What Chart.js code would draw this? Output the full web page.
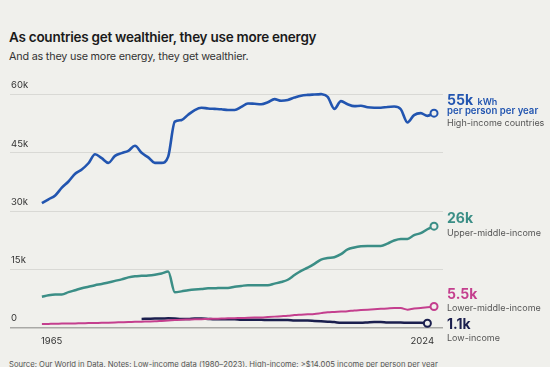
<!DOCTYPE html>
<html>
<head>
<meta charset="utf-8">
<script src="https://cdn.jsdelivr.net/npm/chart.js@4/dist/chart.umd.min.js"></script>
<style>
  html, body { margin: 0; padding: 0; }
  body {
    width: 550px; height: 367px; overflow: hidden; position: relative;
    background: #f0f0ec; font-family: Inter, "Noto Sans", sans-serif; color: #1a1a1a;
  }
  .title { position: absolute; left: 9px; top: 29px; font-size: 13.5px; font-weight: 600; letter-spacing: -0.25px; }
  .subtitle { position: absolute; left: 9px; top: 50px; font-size: 10.8px; color: #333; letter-spacing: -0.2px; }
  .chart-wrap { position: absolute; left: 0; top: 70px; width: 550px; height: 285px; }
  .end { position: absolute; left: 447px; line-height: 1; white-space: nowrap; }
  .big { font-size: 14px; font-weight: 700; }
  .unit { font-size: 9px; font-weight: 600; }
  .per { font-size: 9.6px; font-weight: 600; }
  .sub { font-size: 9px; color: #555; }
  .source { position: absolute; left: 9px; top: 360px; font-size: 7.7px; color: #555; white-space: nowrap; }
</style>
</head>
<body>
<div class="title">As countries get wealthier, they use more energy</div>
<div class="subtitle">And as they use more energy, they get wealthier.</div>
<div class="chart-wrap"><canvas id="energyChart"></canvas></div>

<div class="end" style="top:91px;color:#2255b0"><span class="big">55k</span> <span class="unit">kWh</span></div>
<div class="end per" style="top:106px;color:#2255b0">per person per year</div>
<div class="end sub" style="top:118px">High-income countries</div>

<div class="end big" style="top:211px;color:#3b8e86">26k</div>
<div class="end sub" style="top:228px">Upper-middle-income</div>

<div class="end big" style="top:287px;color:#c43f8e">5.5k</div>
<div class="end sub" style="top:303px">Lower-middle-income</div>

<div class="end big" style="top:317px;color:#1b1f4e">1.1k</div>
<div class="end sub" style="top:333px">Low-income</div>

<div class="source">Source: Our World in Data. Notes: Low-income data (1980–2023). High-income: &gt;$14,005 income per person per year</div>

<script>
const years = [
  1965, 1966, 1967, 1968, 1969, 1970, 1971, 1972, 1973, 1974,
  1975, 1976, 1977, 1978, 1979, 1980, 1981, 1982, 1983, 1984,
  1985, 1986, 1987, 1988, 1989, 1990, 1991, 1992, 1993, 1994,
  1995, 1996, 1997, 1998, 1999, 2000, 2001, 2002, 2003, 2004,
  2005, 2006, 2007, 2008, 2009, 2010, 2011, 2012, 2013, 2014,
  2015, 2016, 2017, 2018, 2019, 2020, 2021, 2022, 2023, 2024,
];

// kWh per person per year
const highIncome = [
  32000, 33000, 34000, 36000, 37600, 39600, 40700, 42300, 44600, 43600,
  42400, 44200, 44900, 45500, 46800, 45000, 43800, 42400, 42400, 44000,
  53000, 53400, 54800, 56000, 56600, 56400, 56300, 56200, 56000, 56000,
  56800, 57700, 57600, 57500, 58000, 58800, 58400, 58600, 59200, 59700,
  59900, 60000, 60100, 59400, 56300, 58300, 57500, 57000, 57100, 56700,
  56600, 56600, 56800, 56900, 56200, 52800, 54700, 55200, 54500, 55200,
];

const upperMiddle = [
  7900, 8300, 8500, 8500, 9100, 9600, 10100, 10500, 10900, 11200,
  11600, 12000, 12400, 12900, 13200, 13300, 13400, 13600, 13900, 14400,
  9100, 9300, 9600, 9800, 9900, 10100, 10100, 10200, 10200, 10500,
  10700, 10900, 10900, 10900, 10900, 11300, 11700, 12300, 13500, 14600,
  15400, 16400, 17500, 17900, 18100, 18900, 20100, 20600, 20900, 21000,
  21000, 21000, 21600, 22400, 22800, 22800, 23800, 24300, 25300, 26100,
];

const lowerMiddle = [
  900, 930, 960, 1000, 1030, 1060, 1100, 1130, 1170, 1200,
  1250, 1300, 1350, 1400, 1450, 1500, 1550, 1600, 1700, 1800,
  1900, 2000, 2050, 2100, 2150, 2200, 2250, 2300, 2350, 2400,
  2450, 2500, 2550, 2600, 2700, 2800, 2900, 3000, 3200, 3300,
  3400, 3500, 3700, 3900, 4000, 4100, 4200, 4400, 4500, 4600,
  4700, 4800, 4900, 5000, 5000, 4600, 4900, 5000, 5200, 5400,
];

// low-income data only 1980–2023
const lowIncome = [
  null, null, null, null, null, null, null, null, null, null,
  null, null, null, null, null, 2200, 2250, 2300, 2300, 2350,
  2300, 2200, 2200, 2300, 2300, 2200, 2100, 2100, 2100, 2100,
  2000, 2000, 2000, 2000, 1900, 1900, 1900, 1900, 1800, 1800,
  1800, 1700, 1600, 1500, 1400, 1200, 1200, 1200, 1200, 1300,
  1400, 1400, 1300, 1300, 1300, 1200, 1200, 1200, 1100, null,
];

const yTicks = [0, 15000, 30000, 45000, 60000];
const xLabels = [1965, 2024];

const BG = "#f0f0ec";

const toPoints = (values) => years.map((y, i) => ({ x: y, y: values[i] }));

const makeSeries = function (values, color, width) {
  let last = values.length - 1;
  while (values[last] === null) last--;
  return {
    data: toPoints(values),
    borderColor: color,
    borderWidth: width,
    cubicInterpolationMode: "monotone",
    pointRadius: (ctx) => (ctx.dataIndex === last ? 3.5 : 0),
    pointHoverRadius: 0,
    pointBackgroundColor: BG,
    pointBorderColor: color,
    pointBorderWidth: 2,
    spanGaps: false,
    clip: false,
  };
};

// year labels under the plot: first left-aligned, last right-aligned
const yearLabels = {
  id: "yearLabels",
  afterDraw(chart) {
    const { ctx, chartArea, scales } = chart;
    ctx.save();
    ctx.font = "9.5px Inter, sans-serif";
    ctx.fillStyle = "#333";
    ctx.textBaseline = "middle";
    xLabels.forEach((yr, i) => {
      ctx.textAlign = i === 0 ? "left" : "right";
      ctx.fillText(String(yr), scales.x.getPixelForValue(yr) - (i === 0 ? 1 : 0), chartArea.bottom + 14);
    });
    ctx.restore();
  },
};

new Chart(document.querySelector("#energyChart"), {
  type: "line",
  data: {
    datasets: [
      makeSeries(lowerMiddle, "#c43f8e", 2),
      makeSeries(lowIncome, "#1b1f4e", 2.5),
      makeSeries(upperMiddle, "#3b8e86", 2.5),
      makeSeries(highIncome, "#2255b0", 2.6),
    ],
  },
  options: {
    responsive: true,
    maintainAspectRatio: false,
    animation: false,
    events: [],
    layout: { padding: { left: 8, right: 107, top: 24.5, bottom: 27.5 } },
    plugins: { legend: { display: false }, tooltip: { enabled: false } },
    scales: {
      x: {
        type: "linear",
        min: 1960.2,
        max: 2025.35,
        display: false,
      },
      y: {
        min: 0,
        max: 60000,
        afterBuildTicks: (axis) => {
          axis.ticks = yTicks.map((v) => ({ value: v }));
        },
        border: { display: false },
        grid: {
          drawTicks: false,
          color: (ctx) => (ctx.tick && ctx.tick.value === 0 ? "#a9a9a6" : "#d9d9d5"),
          lineWidth: (ctx) => (ctx.tick && ctx.tick.value === 0 ? 1.5 : 1),
        },
        ticks: {
          mirror: true,
          padding: 1,
          labelOffset: -9,
          color: "#333",
          font: { family: "Inter, sans-serif", size: 9.5 },
          callback: (v) => (v === 0 ? "0" : v / 1000 + "k"),
        },
      },
    },
  },
  plugins: [yearLabels],
});
</script>
</body>
</html>
